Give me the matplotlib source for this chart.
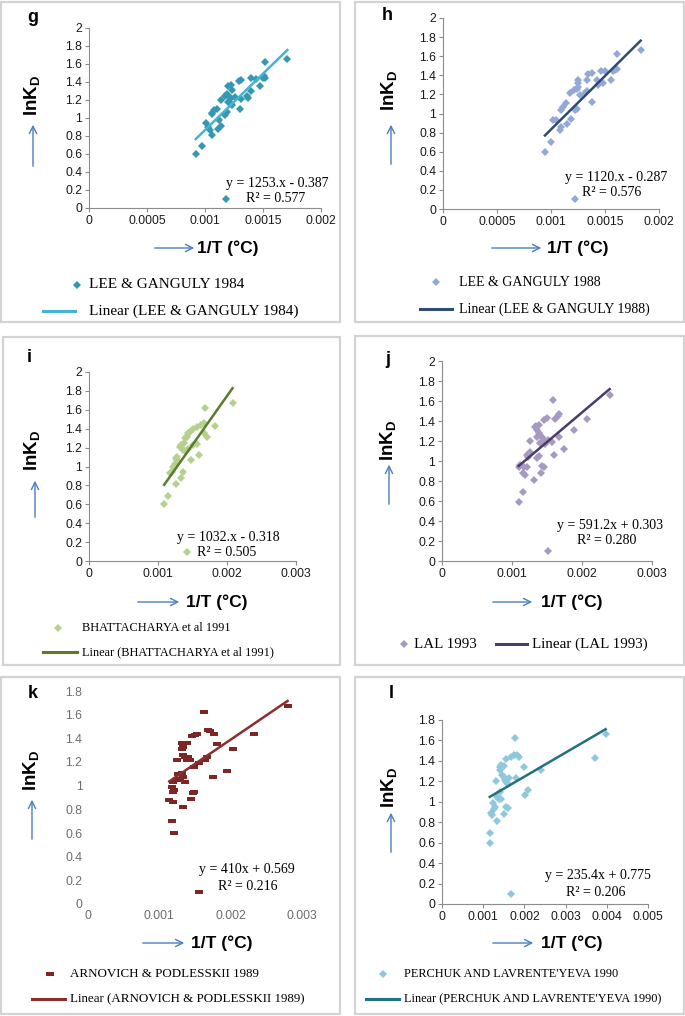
import matplotlib
matplotlib.use('Agg')
import matplotlib.pyplot as plt
import numpy as np
from matplotlib.lines import Line2D
from matplotlib.patches import Rectangle, FancyArrowPatch
from matplotlib.ticker import FixedLocator, FuncFormatter

plt.rcParams['font.family'] = ['Liberation Sans', 'DejaVu Sans']
plt.rcParams['mathtext.fontset'] = 'custom'
plt.rcParams['mathtext.bf'] = 'Liberation Sans:bold'
plt.rcParams['mathtext.rm'] = 'Liberation Sans'

# ---- data (x in 1/T, y = lnKD) ----
g_x = [0.92, 0.97, 1.06, 1.11, 1.01, 1.03, 1.04, 1.06, 1.14, 1.12, 1.10, 1.08, 1.06, 1.19, 1.17,
       1.14, 1.19, 1.22, 1.20, 1.22, 1.23, 1.19, 1.17, 1.20, 1.22, 1.23, 1.26, 1.30, 1.31, 1.29,
       1.31, 1.36, 1.37, 1.40, 1.40, 1.44, 1.47, 1.50, 1.51, 1.52, 1.52, 1.71, 1.18]
g_x = [v * 1e-3 for v in g_x]
g_y = [0.60, 0.69, 0.81, 0.88, 0.94, 0.90, 0.87, 1.06, 0.91, 0.98, 1.10, 1.09, 1.04, 1.07, 1.03,
       1.20, 1.26, 1.22, 1.18, 1.16, 1.15, 1.27, 1.25, 1.35, 1.37, 1.31, 1.23, 1.10, 1.42, 1.41,
       1.21, 1.24, 1.22, 1.45, 1.30, 1.43, 1.35, 1.45, 1.47, 1.44, 1.62, 1.66, 0.10]

h_x = [0.944, 0.997, 1.083, 1.093, 1.151, 1.021, 1.043, 1.185, 1.377, 1.222, 1.238, 1.093, 1.114,
       1.136, 1.176, 1.216, 1.238, 1.253, 1.247, 1.253, 1.269, 1.315, 1.331, 1.346, 1.383, 1.331,
       1.423, 1.438, 1.463, 1.500, 1.484, 1.556, 1.577, 1.593, 1.608, 1.608, 1.830, 1.220]
h_x = [v * 1e-3 for v in h_x]
h_y = [0.60, 0.70, 0.83, 0.86, 0.89, 0.93, 0.93, 0.94, 1.12, 1.04, 1.05, 1.04, 1.07,
       1.11, 1.21, 1.25, 1.26, 1.28, 1.35, 1.32, 1.19, 1.21, 1.24, 1.41, 1.42, 1.35,
       1.35, 1.30, 1.44, 1.44, 1.32, 1.35, 1.44, 1.46, 1.47, 1.62, 1.66, 0.10]

i_x = [1.09, 1.14, 1.26, 1.33, 1.17, 1.20, 1.36, 1.48, 1.26, 1.27, 1.28, 1.25, 1.22, 1.32, 1.34,
       1.37, 1.39, 1.42, 1.44, 1.46, 1.36, 1.39, 1.43, 1.51, 1.56, 1.60, 1.50, 1.56, 1.63, 1.66,
       1.71, 1.66, 1.68, 1.83, 2.08, 1.42]
i_x = [v * 1e-3 for v in i_x]
i_y = [0.60, 0.69, 0.81, 0.88, 0.93, 0.94, 0.94, 1.07, 1.09, 1.10, 1.07, 1.03, 1.00, 1.21, 1.23,
       1.25, 1.30, 1.31, 1.35, 1.37, 1.17, 1.16, 1.19, 1.23, 1.24, 1.12, 1.40, 1.42, 1.44, 1.46,
       1.31, 1.35, 1.62, 1.43, 1.67, 0.10]

j_x = [1.095, 1.162, 1.310, 1.414, 1.157, 1.181, 1.095, 1.119, 1.167, 1.214, 1.429, 1.462, 1.214,
       1.229, 1.252, 1.357, 1.381, 1.262, 1.357, 1.381, 1.357, 1.333, 1.348, 1.381, 1.429, 1.452,
       1.476, 1.405, 1.514, 1.571, 1.605, 1.452, 1.500, 1.581, 1.619, 1.657, 1.676, 1.676, 1.738,
       1.881, 2.071, 2.395, 1.514]
j_x = [v * 1e-3 for v in j_x]
j_y = [0.59, 0.69, 0.81, 0.88, 0.88, 0.86, 0.94, 0.96, 0.94, 0.94, 0.95, 0.94, 1.06,
       1.04, 1.09, 1.03, 1.05, 1.20, 1.24, 1.28, 1.31, 1.34, 1.35, 1.36, 1.24, 1.21,
       1.17, 1.18, 1.21, 1.19, 1.06, 1.41, 1.43, 1.61, 1.42, 1.45, 1.47, 1.24, 1.12,
       1.31, 1.42, 1.66, 0.10]

k_x = [1.205, 1.181, 1.327, 1.444, 1.139, 1.186, 1.195, 1.209, 1.181, 1.467, 1.491, 1.195, 1.242,
       1.289, 1.327, 1.359, 1.313, 1.266, 1.242, 1.327, 1.359, 1.383, 1.406, 1.430, 1.313, 1.327,
       1.313, 1.383, 1.480, 1.561, 1.664, 1.640, 1.453, 1.500, 1.523, 1.627, 1.688, 1.711, 1.772,
       1.805, 1.758, 2.030, 1.955, 2.330, 2.798, 1.561]
k_x = [v * 1e-3 for v in k_x]
k_y = [0.60, 0.70, 0.82, 0.89, 0.88, 0.86, 0.95, 0.96, 0.99, 0.94, 0.95, 1.03, 1.06,
       1.05, 1.07, 1.03, 1.11, 1.10, 1.22, 1.26, 1.24, 1.22, 1.24, 1.22, 1.31, 1.33,
       1.36, 1.36, 1.16, 1.19, 1.24, 1.22, 1.42, 1.43, 1.44, 1.62, 1.47, 1.46, 1.44,
       1.35, 1.07, 1.31, 1.12, 1.44, 1.67, 0.10]

l_x = [1.159, 1.159, 1.345, 1.515, 1.216, 1.191, 1.256, 1.281, 1.564, 1.597, 1.240, 1.378, 1.443,
       1.337, 1.418, 1.321, 1.459, 1.499, 1.524, 1.556, 1.597, 1.402, 1.418, 1.443, 1.499, 1.621,
       1.799, 1.564, 1.686, 1.742, 1.823, 1.864, 1.783, 1.986, 2.010, 2.091, 2.399, 3.703, 3.971,
       1.678]
l_x = [v * 1e-3 for v in l_x]
l_y = [0.60, 0.69, 0.81, 0.88, 0.87, 0.89, 0.93, 0.95, 0.95, 0.94, 0.99, 1.03, 1.03,
       1.05, 1.10, 1.20, 1.26, 1.24, 1.21, 1.19, 1.17, 1.31, 1.34, 1.36, 1.35, 1.23,
       1.23, 1.42, 1.44, 1.46, 1.46, 1.44, 1.62, 1.34, 1.07, 1.12, 1.31, 1.43, 1.66,
       0.10]

slopes = [1253, 1120, 1032, 591.2, 410, 235.4]
intercepts = [-0.387, -0.287, -0.318, 0.303, 0.569, 0.775]
eq_labels = ['y = 1253.x - 0.387', 'y = 1120.x - 0.287', 'y = 1032.x - 0.318',
             'y = 591.2x + 0.303', 'y = 410x + 0.569', 'y = 235.4x + 0.775']
r2_labels = ['R² = 0.577', 'R² = 0.576', 'R² = 0.505', 'R² = 0.280', 'R² = 0.216', 'R² = 0.206']
series_names = ['LEE & GANGULY 1984', 'LEE & GANGULY 1988', 'BHATTACHARYA et al 1991',
                'LAL 1993', 'ARNOVICH & PODLESSKII 1989', "PERCHUK AND LAVRENTE'YEVA 1990"]
letters = ['g', 'h', 'i', 'j', 'k', 'l']

W, H = 685, 1016
fig = plt.figure(figsize=(W / 100, H / 100), dpi=100)


def fx(px):
    return px / W


def fy(py):
    return 1 - py / H


# little horizontal bar used as marker in panel k
rect_marker = [(-1, -0.55), (1, -0.55), (1, 0.55), (-1, 0.55), (-1, -0.55)]

panels = [
    dict(x=g_x, y=g_y, ax=(89, 28, 321, 208), xmax=0.002, xstep=0.0005, ymax=2.0,
         mc='#3597b0', lc='#45b3d3', box=(1, 2, 340, 322), letter=(27, 17),
         ylab=(33, 95), varr=(33, 169, 122), harr=(152, 197, 248), xlab=(228, 248),
         eq=(277, 183), r2=(276, 199), leg_fs=11, leg=[(77, 89, 285), (43, 75, 89, 311)]),
    dict(x=h_x, y=h_y, ax=(443, 18, 659, 209), xmax=0.002, xstep=0.0005, ymax=2.0,
         mc='#94a8d5', lc='#2f4b70', box=(355, 2, 684, 322), letter=(382, 15),
         ylab=(390, 90), varr=(391, 167, 122), harr=(489, 544, 248), xlab=(578, 248),
         eq=(616, 178), r2=(612, 193), leg_fs=10, leg=[(436, 459, 282), (420, 452, 459, 309)]),
    dict(x=i_x, y=i_y, ax=(89, 372, 296, 561), xmax=0.003, xstep=0.001, ymax=2.0,
         mc='#b6d08f', lc='#5b7b2c', box=(3, 337, 340, 665), letter=(27, 358),
         ylab=(33, 450), varr=(35, 520, 478), harr=(135, 182, 602), xlab=(217, 602),
         eq=(228, 537), r2=(227, 552), leg_fs=8.8, leg=[(58, 82, 628), (43, 77, 82, 652)]),
    dict(x=j_x, y=j_y, ax=(442, 361, 652, 561), xmax=0.003, xstep=0.001, ymax=2.0,
         mc='#a69ac3', lc='#4a3b6b', box=(355, 336, 684, 665), letter=(385, 360),
         ylab=(389, 440), varr=(389, 507, 462), harr=(490, 535, 602), xlab=(572, 602),
         eq=(610, 525), r2=(607, 541), leg_fs=10.8, leg=[(404, 414, 644), (496, 527, 532, 644)]),
    dict(x=k_x, y=k_y, ax=(88, 691, 302, 904), xmax=0.003, xstep=0.001, ymax=1.8,
         mc='#7c2626', lc='#8a2e2e', box=(1, 677, 340, 1014), letter=(28, 693),
         ylab=(32, 770), varr=(32, 842, 797), harr=(140, 187, 943), xlab=(222, 943),
         eq=(247, 870), r2=(248, 886), leg_fs=9.4, leg=[(50, 70, 974), (32, 65, 70, 999)]),
    dict(x=l_x, y=l_y, ax=(442, 720, 648, 904), xmax=0.005, xstep=0.001, ymax=1.8,
         mc='#8fc8dc', lc='#23707f', box=(355, 677, 684, 1014), letter=(389, 693),
         ylab=(390, 787), varr=(391, 855, 810), harr=(490, 536, 943), xlab=(572, 943),
         eq=(598, 875), r2=(596, 892), leg_fs=8.8, leg=[(383, 404, 974), (366, 399, 404, 999)]),
]

arrow_col = '#4a7fc1'
spine_col = '#8c8c8c'
dms = 4.4   # diamond size
rms = 5.2   # bar size (panel k)

for n, p in enumerate(panels):
    b = p['box']
    fig.add_artist(Rectangle((fx(b[0]), fy(b[3])), (b[2] - b[0]) / W, (b[3] - b[1]) / H,
                             transform=fig.transFigure, fill=False, ec='#d3d3d3', lw=1.6))
    l, t, r, bt = p['ax']
    ax = fig.add_axes([fx(l), fy(bt), (r - l) / W, (bt - t) / H])
    ax.set_xlim(0, p['xmax'])
    ax.set_ylim(0, p['ymax'])
    xt = np.round(np.arange(0, p['xmax'] + 1e-9, p['xstep']), 6)
    yt = np.round(np.arange(0, p['ymax'] + 1e-9, 0.2), 6)
    ax.xaxis.set_major_locator(FixedLocator(xt))
    ax.yaxis.set_major_locator(FixedLocator(yt))
    fmt = FuncFormatter(lambda v, pos: f'{v:g}')
    ax.xaxis.set_major_formatter(fmt)
    ax.yaxis.set_major_formatter(fmt)
    for s in ['top', 'right']:
        ax.spines[s].set_visible(False)
    if n == 4:
        for s in ['left', 'bottom']:
            ax.spines[s].set_visible(False)
        ax.tick_params(length=0, labelsize=8.8, colors='#6e6e6e', pad=4)
    else:
        for s in ['left', 'bottom']:
            ax.spines[s].set_color(spine_col)
            ax.spines[s].set_linewidth(0.8)
        ax.tick_params(length=3, width=0.8, color=spine_col, labelsize=8.8,
                       labelcolor='#1a1a1a', pad=2)
    ax.patch.set_alpha(0)

    if n == 4:
        ax.plot(p['x'], p['y'], ls='none', marker=rect_marker, ms=rms, color=p['mc'], mew=0)
    else:
        ax.plot(p['x'], p['y'], ls='none', marker='D', ms=dms, color=p['mc'], mew=0)
    xs = np.array([min(p['x']), max(p['x'])])
    ax.plot(xs, slopes[n] * xs + intercepts[n], color=p['lc'], lw=1.8)

    fig.text(fx(p['letter'][0]), fy(p['letter'][1]), letters[n], fontsize=13,
             fontweight='bold', ha='left', va='center')
    fig.text(fx(p['ylab'][0]), fy(p['ylab'][1]), r'$\mathbf{lnK}_{\mathbf{D}}$',
             fontsize=13.5, rotation=90, ha='center', va='center')
    fig.text(fx(p['xlab'][0]), fy(p['xlab'][1]), '1/T (°C)', fontsize=12.5,
             fontweight='bold', ha='center', va='center')
    fig.text(fx(p['eq'][0]), fy(p['eq'][1]), eq_labels[n], fontsize=10,
             family='Liberation Serif', ha='center', va='center')
    fig.text(fx(p['r2'][0]), fy(p['r2'][1]), r2_labels[n], fontsize=10,
             family='Liberation Serif', ha='center', va='center')

    va = p['varr']
    fig.add_artist(FancyArrowPatch((fx(va[0]), fy(va[1])), (fx(va[0]), fy(va[2])),
                                   transform=fig.transFigure, arrowstyle='->',
                                   mutation_scale=13, color=arrow_col, lw=1.0))
    ha_ = p['harr']
    fig.add_artist(FancyArrowPatch((fx(ha_[0]), fy(ha_[2])), (fx(ha_[1]), fy(ha_[2])),
                                   transform=fig.transFigure, arrowstyle='->',
                                   mutation_scale=13, color=arrow_col, lw=1.0))

    # legend
    mk, tx, yy = p['leg'][0]
    if n == 4:
        fig.add_artist(Line2D([fx(mk)], [fy(yy)], transform=fig.transFigure, ls='none',
                              marker=rect_marker, ms=rms, color=p['mc'], mew=0))
    else:
        fig.add_artist(Line2D([fx(mk)], [fy(yy)], transform=fig.transFigure, ls='none',
                              marker='D', ms=dms, color=p['mc'], mew=0))
    fig.text(fx(tx), fy(yy), series_names[n], fontsize=p['leg_fs'],
             family='Liberation Serif', ha='left', va='center')
    x0, x1, tx2, yy2 = p['leg'][1]
    fig.add_artist(Line2D([fx(x0), fx(x1)], [fy(yy2), fy(yy2)], transform=fig.transFigure,
                          color=p['lc'], lw=2.2))
    fig.text(fx(tx2), fy(yy2), 'Linear (' + series_names[n] + ')', fontsize=p['leg_fs'],
             family='Liberation Serif', ha='left', va='center')

fig.savefig('out.png', dpi=100)
